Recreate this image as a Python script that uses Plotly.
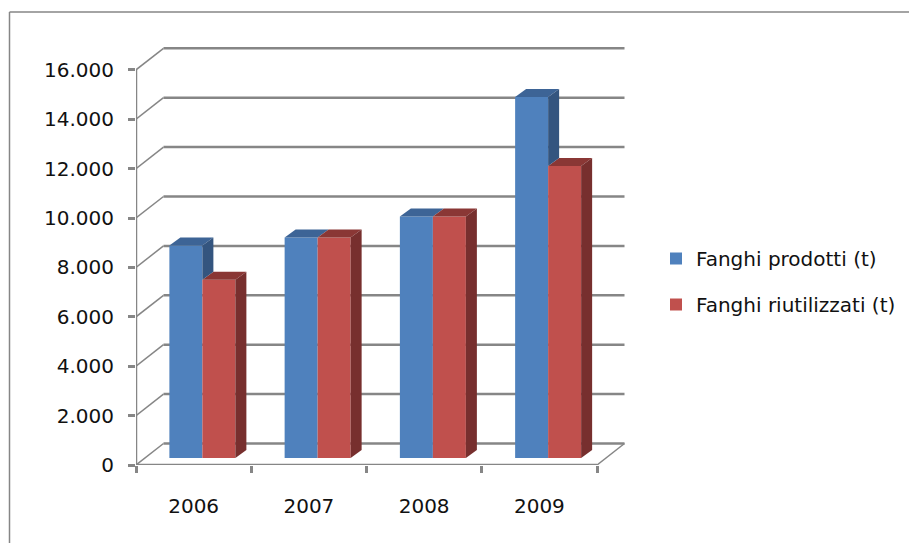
import plotly.graph_objects as go

years = ["2006", "2007", "2008", "2009"]
prodotti = [8600, 8930, 9780, 14620]
riutilizzati = [7220, 8930, 9780, 11820]
y_ticks = [0, 2000, 4000, 6000, 8000, 10000, 12000, 14000, 16000]
name_a = "Fanghi prodotti (t)"
name_b = "Fanghi riutilizzati (t)"

W, H = 909, 543
L, R, T, B = 136, 630, 45, 465
PX_X = 115.25            # pixels per category
PX_Y = 0.0247            # pixels per unit
GREY = "#868686"
FONT = "DejaVu Sans"

x_range = [-0.5, -0.5 + (R - L) / PX_X]
y_range = [0, (B - T) / PX_Y]
centers = list(range(len(years)))
edges = [c - 0.5 for c in centers] + [centers[-1] + 0.5]

wall_dx = 27.5 / PX_X
wall_dy = 21.5 / PX_Y
bar_w = 33 / PX_X
off_a = -24.25 / PX_X
off_b = off_a + bar_w
base = 7 / PX_Y
bar_dx = 11 / PX_X
bar_dy = 8 / PX_Y

fig = go.Figure()
fig.add_bar(x=centers, y=prodotti, base=base, offset=off_a, width=bar_w,
            name=name_a, legend="legend", marker=dict(color="#4f81bd", line_width=0), cliponaxis=False)
fig.add_bar(x=centers, y=riutilizzati, base=base, offset=off_b, width=bar_w,
            name=name_b, legend="legend2", marker=dict(color="#c0504d", line_width=0), cliponaxis=False)


def poly(xs, ys, color):
    fig.add_scatter(x=xs + xs[:1], y=ys + ys[:1], mode="lines", fill="toself", fillcolor=color,
                    line=dict(width=0, color=color), showlegend=False, hoverinfo="skip", cliponaxis=False)


def line(xs, ys, width=2.5):
    fig.add_scatter(x=xs, y=ys, mode="lines", line=dict(color=GREY, width=width),
                    showlegend=False, hoverinfo="skip", cliponaxis=False)


for c, a, b in zip(centers, prodotti, riutilizzati):
    ta, tb = a + base, b + base
    xa, xb, xe = c + off_a, c + off_b, c + off_b + bar_w
    # top faces
    poly([xa, xb, xb + bar_dx, xa + bar_dx], [ta, ta, ta + bar_dy, ta + bar_dy], "#3d6496")
    poly([xb, xe, xe + bar_dx, xb + bar_dx], [tb, tb, tb + bar_dy, tb + bar_dy], "#8a3735")
    # visible part of the first bar's side
    if ta > tb:
        poly([xb, xb + bar_dx, xb + bar_dx, xb], [ta, ta + bar_dy, tb + bar_dy, tb], "#34557f")
    # side of the second bar
    poly([xe, xe + bar_dx, xe + bar_dx, xe], [tb, tb + bar_dy, base + bar_dy, base], "#772f2e")

# front axes and the diagonals that join them to the back wall
x0, x1 = edges[0], edges[-1]
line([x0, x0], [y_ticks[0], y_ticks[-1]])
line([x0, x1], [0, 0])
for v in y_ticks:
    line([x0, x0 + wall_dx], [v, v + wall_dy], 1.5)
line([x1, x1 + wall_dx], [0, wall_dy], 1.5)

shapes = [
    dict(type="line", layer="below", xref="x", yref="y",
         x0=x0 + wall_dx, x1=x1 + wall_dx, y0=v + wall_dy, y1=v + wall_dy,
         line=dict(color=GREY, width=2.5))
    for v in y_ticks
]
# outer chart frame (open at the right and at the bottom)
px = lambda p: (p - L) / (R - L)
py = lambda p: (B - p) / (B - T)
shapes += [
    dict(type="line", xref="paper", yref="paper", x0=px(9.5), x1=px(W), y0=py(12), y1=py(12),
         line=dict(color=GREY, width=1.5)),
    dict(type="line", xref="paper", yref="paper", x0=px(9.5), x1=px(9.5), y0=py(12), y1=py(H),
         line=dict(color=GREY, width=1.5)),
]

legend_style = dict(xref="container", yref="container", xanchor="left", yanchor="top",
                    font=dict(family=FONT, size=20), itemwidth=30, bgcolor="rgba(0,0,0,0)")

fig.update_layout(
    width=W, height=H,
    margin=dict(l=L, r=W - R, t=T, b=H - B, pad=0),
    paper_bgcolor="white", plot_bgcolor="white",
    separators=",.",
    barmode="overlay",
    shapes=shapes,
    font=dict(family=FONT, size=20, color="#111111"),
    legend=dict(x=656 / W, y=1 - 239 / H, **legend_style),
    legend2=dict(x=656 / W, y=1 - 285 / H, **legend_style),
    xaxis=dict(range=x_range, tickmode="array", tickvals=centers, ticktext=years,
               ticks="", showgrid=False, zeroline=False, showline=False,
               ticklabelstandoff=27,
               minor=dict(tickmode="array", tickvals=edges, ticks="outside", ticklen=7,
                          tickcolor=GREY, tickwidth=2.5, showgrid=False)),
    yaxis=dict(range=y_range, tickmode="array", tickvals=y_ticks, tickformat=",d",
               ticks="outside", ticklen=7, tickcolor=GREY, tickwidth=2.5,
               showgrid=False, zeroline=False, showline=False, ticklabelstandoff=10),
)

fig.write_html("out.html", config=dict(displayModeBar=False),
               post_script="document.body.style.margin='0';")
